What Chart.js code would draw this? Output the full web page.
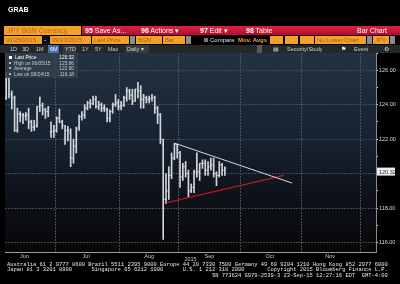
<!DOCTYPE html>
<html>
<head>
<meta charset="utf-8">
<script src="https://cdn.jsdelivr.net/npm/chart.js@4.4.0/dist/chart.umd.min.js"></script>
<style>
body{margin:0;background:#000;width:400px;height:284px;overflow:hidden;position:relative;font-family:"Liberation Sans",Arial,sans-serif}
#c{position:absolute;left:0;top:0}
.b{position:absolute;white-space:nowrap;box-sizing:border-box;overflow:hidden}
.r1{top:26px;height:9px;line-height:9px;font-size:7px}
.r2{top:36px;height:8px;line-height:8px;font-size:6px;padding-left:2px}
.r3{top:45px;height:8px;line-height:8px;font-size:5.5px;color:#d0d0d0}
.or{background:#f4a12c;color:#a85c08}
.dd{background:#8c8c8c;padding:0}
#legend{position:absolute;left:5px;top:53px;width:73px;height:25px;background:rgba(52,64,78,0.85);font-size:4.8px;color:#c8c8c8}
#legend div{position:absolute;left:2px;width:69px;height:5px;line-height:5px}
#legend i{display:inline-block;width:2px;height:2px;background:#bbb;margin:0 3px 1px 2px;vertical-align:middle}
#legend span{position:absolute;right:2px}
#foot{position:absolute;left:7px;top:262px;margin:0;font-family:"Liberation Mono","DejaVu Sans Mono",monospace;font-size:5.43px;line-height:5.3px;color:#e8e8e8;white-space:pre}
</style>
</head>
<body>
<canvas id="c" width="400" height="284"></canvas>

<div class="b" style="left:8px;top:6px;font-size:7px;font-weight:bold;color:#fff">GRAB</div>

<div class="b r1 or" style="left:4px;width:77px;padding-left:3px;color:#b86a10">JPY BGN Currency</div>
<div class="b r1" style="left:82px;width:318px;background:linear-gradient(#dc2440,#b30c2a);color:#fff">
  <span style="position:absolute;left:3px"><b>95</b> Save As...</span>
  <span style="position:absolute;left:59px"><b>96</b> Actions ▾</span>
  <span style="position:absolute;left:118px"><b>97</b> Edit ▾</span>
  <span style="position:absolute;left:164px"><b>98</b> Table</span>
  <span style="position:absolute;left:275px">Bar Chart</span>
</div>

<div class="b r2 or" style="left:4px;width:38px">03/25/2015</div>
<div class="b r2" style="left:43px;width:6px;background:#111;color:#fff;padding-left:1px">-</div>
<div class="b r2 or" style="left:50px;width:41px">09/23/2015</div>
<div class="b r2 or" style="left:92px;width:37px">Last Price</div>
<div class="b r2 dd" style="left:130px;width:5px"></div>
<div class="b r2 or" style="left:136px;width:26px">BGN</div>
<div class="b r2 or" style="left:163px;width:22px">Bar</div>
<div class="b r2 dd" style="left:186px;width:5px"></div>
<div class="b r2" style="left:204px;width:32px;color:#e0e0e0;padding-left:0"><span style="display:inline-block;width:4px;height:4px;background:#777;margin-right:2px;vertical-align:middle"></span>Compare</div>
<div class="b r2" style="left:236px;width:32px;color:#f4a12c;font-weight:bold">Mov. Avgs</div>
<div class="b r2 or" style="left:270px;width:13px"></div>
<div class="b r2 or" style="left:285px;width:13px"></div>
<div class="b r2 or" style="left:300px;width:14px"></div>
<div class="b r2 or" style="left:315px;width:51px">No Lower Chart</div>
<div class="b r2 dd" style="left:367px;width:5px"></div>
<div class="b r2 or" style="left:373px;width:16px">JPY</div>
<div class="b r2 dd" style="left:390px;width:5px"></div>

<div class="b r3" style="left:0;width:400px;background:#25282b"></div>
<div class="b r3" style="left:10px">1D</div>
<div class="b r3" style="left:22px">3D</div>
<div class="b r3" style="left:36px">1M</div>
<div class="b r3" style="left:48px;width:11px;background:#3f6fae;color:#fff;padding-left:2px">6M</div>
<div class="b r3" style="left:63px;width:13px;background:#383b3f;padding-left:2px">YTD</div>
<div class="b r3" style="left:82px">1Y</div>
<div class="b r3" style="left:95px">5Y</div>
<div class="b r3" style="left:108px">Max</div>
<div class="b r3" style="left:125px;width:24px;background:#383b3f;padding-left:2px">Daily ▾</div>
<div class="b r3" style="left:257px;width:5px;background:#5a5a5a"></div>
<div class="b r3" style="left:273px;color:#ddd">▤</div>
<div class="b r3" style="left:287px">Security/Study</div>
<div class="b r3" style="left:341px;color:#fff">⚑</div>
<div class="b r3" style="left:354px">Event</div>
<div class="b r3" style="left:384px">⚙</div>

<div id="legend">
  <div style="top:2px;color:#fff"><i style="background:#fff;width:3px;height:3px"></i>Last Price<span>120.32</span></div>
  <div style="top:7.5px"><i></i>High on 06/05/15<span>125.86</span></div>
  <div style="top:13px"><i></i>Average<span>122.60</span></div>
  <div style="top:18.5px"><i></i>Low on 08/24/15<span>116.18</span></div>
</div>

<pre id="foot">Australia 61 2 9777 8600 Brazil 5511 2395 9000 Europe 44 20 7330 7500 Germany 49 69 9204 1210 Hong Kong 852 2977 6000
Japan 81 3 3201 8900      Singapore 65 6212 1000      U.S. 1 212 318 2000       Copyright 2015 Bloomberg Finance L.P.
                                                               SN 773624 G979-2539-3 23-Sep-15 12:27:16 EDT  GMT-4:00</pre>

<script>
// daily bars, USDJPY (JPY BGN Currency)
const dates = [
  "06/05", "06/08", "06/09", "06/10", "06/11", "06/12", "06/15", "06/16", "06/17", "06/18", "06/19",
  "06/22", "06/23", "06/24", "06/25", "06/26", "06/29", "06/30", "07/01", "07/02", "07/03",
  "07/06", "07/07", "07/08", "07/09", "07/10", "07/13", "07/14", "07/15", "07/16", "07/17",
  "07/20", "07/21", "07/22", "07/23", "07/24", "07/27", "07/28", "07/29", "07/30", "07/31",
  "08/03", "08/04", "08/05", "08/06", "08/07", "08/10", "08/11", "08/12", "08/13", "08/14",
  "08/17", "08/18", "08/19", "08/20", "08/21", "08/24", "08/25", "08/26", "08/27", "08/28",
  "08/31", "09/01", "09/02", "09/03", "09/04", "09/07", "09/08", "09/09", "09/10", "09/11",
  "09/14", "09/15", "09/16", "09/17", "09/18", "09/21", "09/22", "09/23"
];
const opens = [
  124.40, 125.55, 124.60, 124.40, 122.50, 123.45, 123.40, 123.35, 123.40, 123.00, 122.70,
  122.80, 123.90, 123.95, 123.70, 123.60, 122.40, 122.45, 122.50, 123.20, 123.00,
  122.00, 122.50, 122.40, 120.90, 121.60, 122.70, 123.30, 123.40, 123.80, 124.10,
  124.05, 124.30, 123.90, 124.00, 123.80, 123.70, 123.20, 123.60, 124.00, 124.10,
  123.90, 123.95, 124.40, 124.80, 124.55, 124.20, 124.90, 124.80, 124.30, 124.40,
  124.30, 124.35, 124.40, 123.80, 123.40, 121.70, 118.50, 119.00, 119.90, 120.90,
  121.70, 121.20, 119.80, 120.40, 120.00, 119.00, 119.20, 120.10, 120.10, 120.60,
  120.60, 120.20, 120.40, 120.50, 120.00, 119.90, 120.50, 120.20
];
const highs = [
  125.86, 125.60, 124.80, 124.50, 123.80, 123.60, 123.50, 123.55, 123.80, 123.10, 123.10,
  123.90, 124.45, 124.10, 123.80, 123.90, 123.00, 122.80, 123.30, 123.75, 123.10,
  122.80, 122.75, 122.60, 122.00, 122.70, 123.40, 123.60, 124.00, 124.20, 124.30,
  124.50, 124.50, 124.20, 124.10, 124.00, 123.80, 123.70, 124.10, 124.60, 124.30,
  124.20, 124.50, 125.00, 124.90, 124.90, 124.90, 125.30, 125.10, 124.60, 124.50,
  124.50, 124.60, 124.50, 123.90, 123.50, 122.00, 120.00, 120.40, 121.20, 121.75,
  121.70, 121.30, 120.60, 120.70, 120.20, 119.40, 120.20, 121.20, 120.60, 120.80,
  120.80, 120.70, 120.90, 120.90, 120.10, 120.70, 120.60, 120.40
];
const lows = [
  124.30, 124.40, 123.75, 122.45, 122.40, 123.00, 122.90, 123.10, 122.60, 122.45, 122.50,
  122.70, 123.60, 123.40, 123.20, 123.30, 122.10, 122.10, 122.40, 122.95, 122.60,
  121.70, 121.90, 120.40, 120.60, 121.20, 122.50, 123.10, 123.20, 123.70, 123.80,
  124.00, 123.80, 123.70, 123.60, 123.60, 123.00, 123.00, 123.50, 123.90, 123.70,
  123.70, 123.90, 124.20, 124.30, 124.00, 124.20, 124.40, 123.80, 123.80, 124.10,
  124.10, 124.20, 123.50, 122.90, 121.75, 116.18, 118.25, 118.50, 119.70, 120.80,
  120.90, 119.20, 119.60, 119.80, 118.60, 118.90, 118.90, 119.80, 119.60, 120.30,
  119.90, 119.90, 120.20, 119.80, 119.30, 119.80, 119.90, 119.90
];
const closes = [
  125.60, 124.60, 124.40, 122.50, 123.45, 123.40, 123.35, 123.40, 123.00, 122.70, 122.70,
  123.90, 123.95, 123.70, 123.60, 123.85, 122.45, 122.50, 123.20, 123.00, 122.80,
  122.50, 122.50, 120.90, 121.60, 122.60, 123.30, 123.40, 123.80, 124.10, 124.05,
  124.30, 123.90, 124.00, 123.80, 123.80, 123.20, 123.60, 124.00, 124.10, 123.90,
  123.95, 124.40, 124.80, 124.55, 124.20, 124.90, 124.80, 124.30, 124.40, 124.30,
  124.35, 124.40, 123.80, 123.40, 122.00, 118.50, 119.00, 119.90, 120.90, 121.70,
  121.20, 119.80, 120.40, 120.00, 119.00, 119.20, 120.10, 120.10, 120.60, 120.60,
  120.20, 120.40, 120.50, 120.00, 119.90, 120.50, 120.20, 120.32
];

// triangle trend lines (bar index, price)
const upperLineX = [60, 102];
const upperLineY = [121.77, 119.45];
const lowerLineX = [57, 99];
const lowerLineY = [118.30, 119.90];

// x axis: month boundaries and month labels in bar-index units
const monthGrid = [17.5, 40.5, 61.5, 83.5, 105.5, 126.5];
const monthPos = [6.5, 28.5, 51, 72.5, 94, 115.5];
const monthNames = ["Jun", "Jul", "Aug", "Sep", "Oct", "Nov"];
const priceTicks = [116, 117, 118, 119, 120, 121, 122, 123, 124, 125, 126, 127];

const lastPrice = closes[closes.length - 1];
const barColor = "#d2d6da";

var bgPlugin = {
  id: "bg",
  beforeDraw: function(chart) {
    const ctx = chart.ctx, a = chart.chartArea;
    ctx.save();
    ctx.fillStyle = "#000";
    ctx.fillRect(0, 0, chart.width, chart.height);
    const g = ctx.createLinearGradient(0, a.top, 0, a.bottom);
    g.addColorStop(0, "#223243");
    g.addColorStop(0.45, "#172130");
    g.addColorStop(0.75, "#0d1017");
    g.addColorStop(1, "#080809");
    ctx.fillStyle = g;
    ctx.fillRect(a.left, a.top, a.right - a.left, a.bottom - a.top);
    ctx.restore();
  }
};

var lastPricePlugin = {
  id: "lastPrice",
  afterDraw: function(chart) {
    const ctx = chart.ctx, y = chart.scales.y.getPixelForValue(lastPrice) + 3.5;
    const x = chart.chartArea.right + 1;
    ctx.save();
    ctx.fillStyle = "#eeeeee";
    ctx.fillRect(x, y - 4, 18, 8);
    ctx.fillStyle = "#1a2232";
    ctx.font = "5.5px 'Liberation Sans'";
    ctx.textBaseline = "middle";
    ctx.fillText(lastPrice.toFixed(2), x + 2, y + 0.5);
    ctx.restore();
  }
};

const config = {
  type: "bar",
  data: {
    datasets: [
      {
        type: "line",
        data: upperLineX.map((x, i) => ({ x: x, y: upperLineY[i] })),
        borderColor: "#d8d8d8",
        borderWidth: 1,
        pointRadius: 0,
        order: 0
      },
      {
        type: "line",
        data: lowerLineX.map((x, i) => ({ x: x, y: lowerLineY[i] })),
        borderColor: "#b81a22",
        borderWidth: 1.2,
        pointRadius: 0,
        order: 1
      },
      {
        type: "bar",
        data: dates.map((d, i) => ({ x: i, y: [lows[i], highs[i]] })),
        backgroundColor: barColor,
        borderWidth: 0,
        barThickness: 1,
        order: 4
      },
      {
        type: "line",
        data: opens.map((v, i) => ({ x: i, y: v })),
        showLine: false,
        pointStyle: "dash",
        pointRadius: 1.3,
        pointRotation: 180,
        pointBorderColor: barColor,
        pointBorderWidth: 1,
        order: 3
      },
      {
        type: "line",
        data: closes.map((v, i) => ({ x: i, y: v })),
        showLine: false,
        pointStyle: "dash",
        pointRadius: 1.3,
        pointBorderColor: barColor,
        pointBorderWidth: 1,
        order: 2
      }
    ]
  },
  options: {
    responsive: false,
    animation: false,
    events: [],
    layout: { padding: { top: 53, left: 2, right: 0, bottom: 21 } },
    plugins: {
      legend: { display: false },
      tooltip: { enabled: false }
    },
    scales: {
      x: {
        type: "linear",
        min: -0.42,
        max: 131.9,
        offset: false,
        afterBuildTicks: function(scale) {
          scale.ticks = monthGrid.concat(monthPos).sort((a, b) => a - b).map(v => ({ value: v }));
        },
        afterFit: function(scale) { scale.height = 11; },
        ticks: {
          autoSkip: false,
          maxRotation: 0,
          padding: 1,
          color: "#c8c8c8",
          font: { family: "Liberation Sans", size: 5.5 },
          callback: function(v) {
            const k = monthPos.indexOf(v);
            return k >= 0 ? monthNames[k] : "";
          }
        },
        grid: {
          offset: false,
          drawTicks: false,
          color: function(ctx) {
            return ctx.tick && monthGrid.indexOf(ctx.tick.value) >= 0 ? "#46515c" : "transparent";
          }
        },
        border: { display: true, color: "#9a9a9a", dash: [2, 1] },
        title: {
          display: true,
          text: "2015",
          color: "#c8c8c8",
          padding: 0,
          font: { family: "Liberation Sans", size: 5.5 }
        }
      },
      y: {
        type: "linear",
        position: "right",
        min: 115.45,
        max: 127.0,
        afterBuildTicks: function(scale) {
          scale.ticks = priceTicks.map(v => ({ value: v }));
        },
        afterFit: function(scale) { scale.width = 24; },
        ticks: {
          padding: 1,
          color: "#d8d8d8",
          font: { family: "Liberation Sans", size: 5.5 },
          callback: function(v) {
            if (v % 2 !== 0 || Math.abs(v - lastPrice) < 0.8) return "";
            return v.toFixed(2);
          }
        },
        grid: {
          tickLength: 2,
          tickColor: "#e8e8e8",
          color: function(ctx) {
            return ctx.tick && ctx.tick.value % 2 === 0 ? "#3e4a58" : "transparent";
          }
        },
        border: { display: true, color: "#8a8a8a", dash: [2, 1] }
      }
    }
  },
  plugins: [bgPlugin, lastPricePlugin]
};

var usdJpyChart = new Chart(document.getElementById("c"), config);
</script>
</body>
</html>
